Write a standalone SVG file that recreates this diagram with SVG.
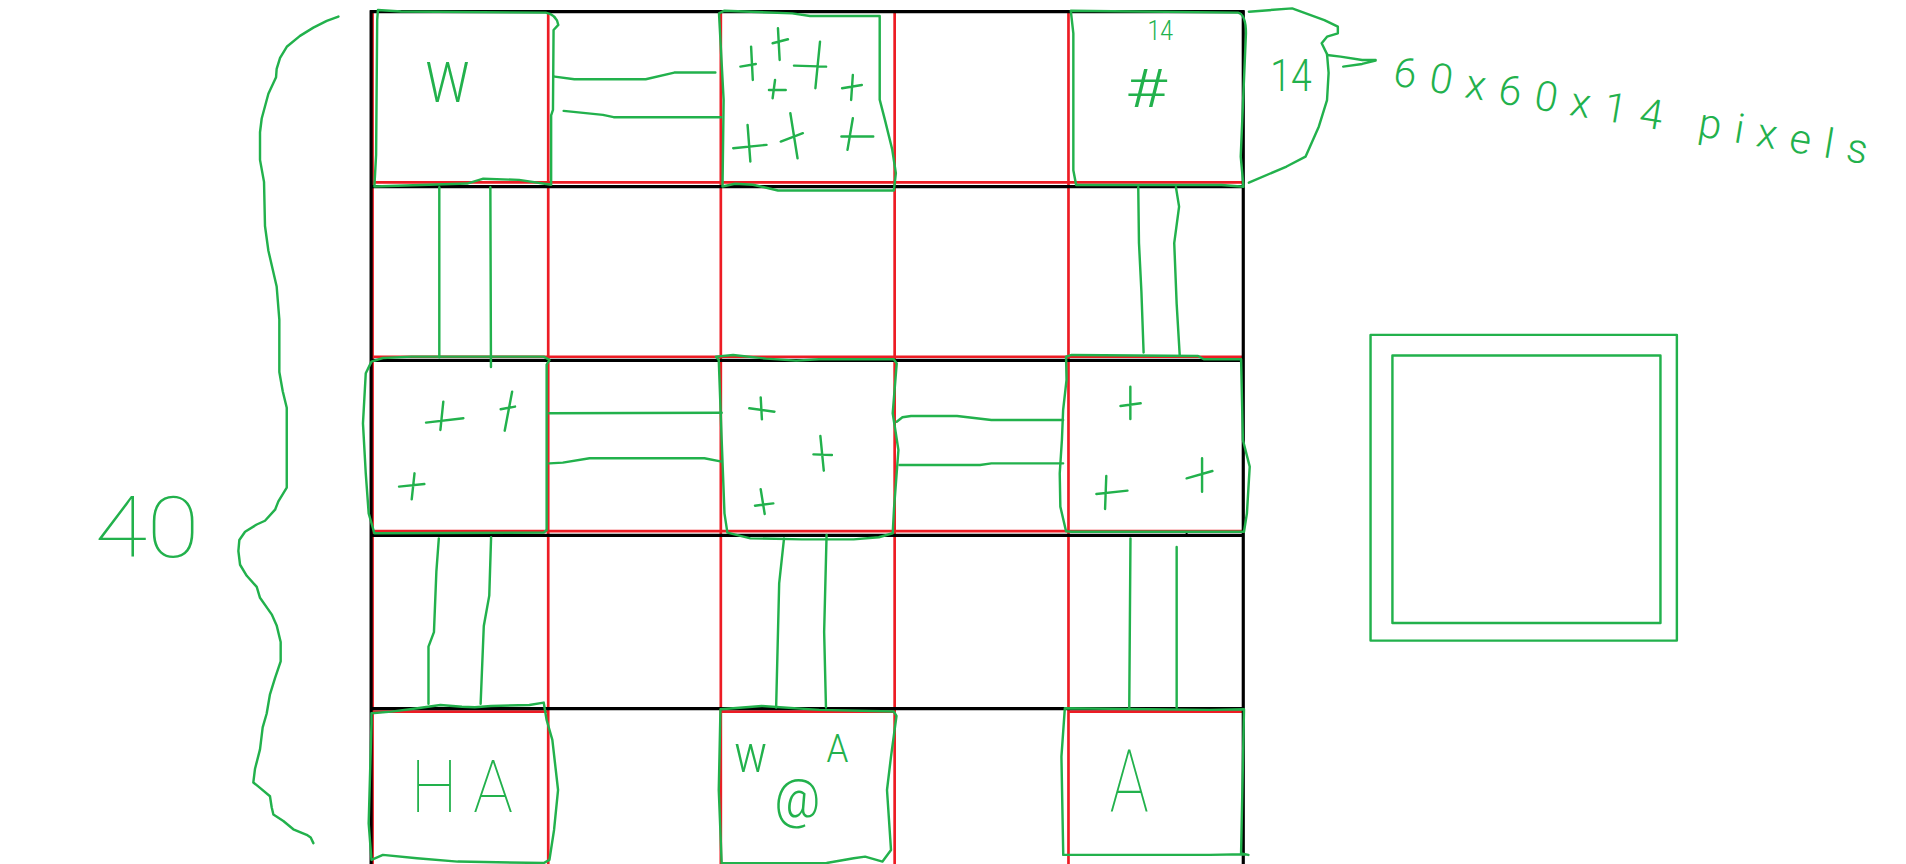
<svg xmlns="http://www.w3.org/2000/svg" width="1906" height="864" viewBox="0 0 1906 864">
<style>
.g{fill:none;stroke:#22b14c;stroke-width:2;stroke-linecap:round;stroke-linejoin:round}
.r{fill:none;stroke:#ed1c24;stroke-width:2.2}
.k{fill:none;stroke:#000;stroke-width:2.6}
.t{fill:#22b14c;font-family:"Roboto","Lato","Liberation Sans",sans-serif;font-weight:300}
.big{font-weight:100}
</style>
<rect width="1906" height="864" fill="#fff"/>
<g transform="scale(1.21556)">
<g id="grid">
<g class="r">
<path d="M306.5,9 V711 M451,9 V711 M593,9 V711 M736,9 V711 M879,9 V711"/>
<path d="M307,150 H1022 M307,293.5 H1022 M307,437 H1022"/>
<path d="M307,585.5 H451 M593,585.5 H736 M879,585.5 H1022"/>
</g>
<g class="k">
<path d="M304.5,9.5 H1023.5 M305,153.5 H1023 M305,296.5 H1023 M305,440.5 H1023 M305,583 H1023"/>
<path d="M305.3,8.5 V711 M1022.8,8.5 V711"/>
<path d="M976.2,437.4 V441.5" style="stroke-width:1.6"/>
</g>
</g>
<g id="connectors" class="g">
<path d="M456.3,63 L472.5,65.2 L531.2,65.2 L554.7,59.7 L588.5,59.7"/>
<path d="M463.7,91.2 L496,94.5 L504.8,96.4 L593,96.4"/>
<path d="M361.4,154 L361.4,294"/>
<path d="M403.4,154 L403.9,302"/>
<path d="M936.4,154 L937,200 L939,240 L940.8,290"/>
<path d="M967.4,154 L970,170 L966,200 L968,250 L970.5,292"/>
<path d="M452,340 L593.7,339.5"/>
<path d="M452,381.2 L463,380.6 L485,377 L579.5,377 L593.7,379.8"/>
<path d="M737.7,346.9 L742.4,343.3 L749.5,342.2 L787.3,342.2 L815.6,345.5 L874.6,345.5"/>
<path d="M740,382.5 L806.2,382.5 L815.6,381.2 L874.6,381.2"/>
<path d="M361,443 L359,470 L357,520 L352.5,532 L352.5,579"/>
<path d="M404,442 L402.5,490 L398,515 L395.4,579"/>
<path d="M645,443 L641,480 L638.5,582"/>
<path d="M680,440 L678,520 L679.5,582"/>
<path d="M930,443 L929,582"/>
<path d="M968,450 L968,582"/>
</g>
<g id="node-w">
<path class="g" d="M310.9,8.2 L330,9.5 L449,10.4 Q457.8,12 459.3,20.5 L455.4,24.7 L454.9,90.4 L453.4,95 L453.4,152 L427,148 L397.6,147 L384.3,151 L308,153.4 L309.4,127.4 L310.3,16.4 Z"/>
<text class="t" x="350" y="84" font-size="46" textLength="36" lengthAdjust="spacingAndGlyphs">W</text>
</g>
<g id="node-plus-top">
<path class="g" d="M591.5,11 L596,8.8 L651.7,11 L666.4,13.2 L723.7,13.2 L723.7,82 L728,98.6 L734,123 L737,142.5 L735.4,156.7 L640,156.7 L619.4,152 L604.7,151.2 L594.4,153.4 L595.3,82.2 Z"/>
<path class="g" d="M617.9,38.4 L619.3,65.8 M609.1,54.8 L621.8,52.6 M640,23.3 L641.4,49.3 M635.6,35.6 L648.2,32.3 M674.6,34.3 L670.8,72.6 M653.2,54 L679.6,54.8 M637.6,65.8 L635.6,80.8 M632.6,74 L646.4,74 M701.6,61.7 L700.2,82.2 M692.8,72.6 L709,69.9 M615,102.8 L617.3,132.9 M603.2,121.9 L630.6,119.2 M650.2,93.2 L656.1,130.2 M642.3,116.5 L660.5,109.6 M701.6,97.3 L697.2,123.3 M692.2,112.3 L718.4,112.3"/>
</g>
<g id="node-hash">
<path class="g" d="M880.9,8.8 L1018.5,10.4 Q1025,12 1025,27.4 L1020.7,128.9 L1023,153.6 L1005,152.2 L885.3,152.2 L883,140 L883,27.4 Z"/>
<text class="t" x="926" y="88" font-size="44" textLength="34" lengthAdjust="spacingAndGlyphs">#</text>
<text class="t" x="944" y="33" font-size="22" textLength="21" lengthAdjust="spacingAndGlyphs">14</text>
</g>
<g id="node-mid-left">
<path class="g" d="M305.6,297.5 L315,294.5 L338.7,293.4 L447.3,293.4 L452,296.2 L449.7,300 L449.7,436 L447.3,438.2 L308,438.7 L303.3,422.3 L300.9,389.4 L298.6,348.3 L300.9,307.1 Z"/>
<path class="g" d="M364.7,330.4 L362.3,353.7 M350.5,347.7 L381.2,344.1 M421.3,322.2 L415.2,354.3 M411.9,336.7 L423.7,334.5 M341,389.4 L338.7,410.8 M328.3,400.3 L349.1,398.2"/>
</g>
<g id="node-mid-center">
<path class="g" d="M591.3,296.2 L589,293.4 L603.1,292 L630,295 L655,296.7 L673.8,295.6 L735.3,295.6 L737.7,299 L734.4,340 L739.1,370.2 L735.5,418 L734.4,438.7 L723,442 L702.3,443.7 L659.8,443.7 L617.3,442.9 L598.4,438.2 L596,422.3 L593.7,362 Z"/>
<path class="g" d="M625.8,326.9 L626.8,345 M616.4,335.9 L637.1,338.7 M674.9,358.7 L677.7,387.2 M669.2,373.8 L684.4,374.3 M625.8,402.5 L629.1,422.8 M621.1,416 L636.2,414.1"/>
</g>
<g id="node-mid-right">
<path class="g" d="M877,293.4 L881.7,292 L985.6,292.9 L990.3,295.6 L1021,295.6 L1022.5,362 L1028.1,383.9 L1025.8,422.3 L1023.4,437.4 L881.7,437.4 L877,437 L872.3,416.8 L871.8,389.4 L873.6,362 L874.6,337.3 L877.4,312.6 Z"/>
<path class="g" d="M929.9,318.1 L929.9,344.7 M921.8,334 L938.4,331.8 M910.1,391.6 L909.1,418.7 M902,406.4 L927.5,403.6 M988.9,377 L988.9,404.5 M976.2,393.5 L997.4,387.5"/>
</g>
<g id="node-ha">
<path class="g" d="M305.6,586.8 L322,585.4 L343.4,582.7 L362.3,580 L380,581.4 L390.6,581.9 L404,580.8 L435.5,580 L447.3,578 L449.7,592.3 L454.4,608.7 L459.1,649.9 L455.8,682.8 L452,707.4 L447.3,710 L376.5,708.8 L343,706 L315,703.3 L305.6,707.4 L303.3,677.3 L305.6,595 Z"/>
<text class="t big" x="338" y="668" font-size="60" textLength="84" lengthAdjust="spacingAndGlyphs">H A</text>
</g>
<g id="node-at">
<path class="g" d="M592.7,583.5 L626.7,580.8 L674,584 L735.3,585.4 L737.5,589 L733,622.4 L729.7,649.9 L733,699.2 L726,708.8 L711.7,704.7 L702.3,706 L680,710 L593.7,710.2 L591.3,649.9 Z"/>
<text class="t" x="604" y="635" font-size="44" textLength="27" lengthAdjust="spacingAndGlyphs">w</text>
<text class="t" x="637" y="672" font-size="44" textLength="38" lengthAdjust="spacingAndGlyphs">@</text>
<text class="t" x="680" y="627" font-size="32" textLength="18" lengthAdjust="spacingAndGlyphs">A</text>
</g>
<g id="node-a">
<path class="g" d="M876,582.7 L995,584 L1023.4,583.5 L1021,702 L1027,703.3 L1023.4,702.8 L995,703.3 L874.7,703.3 L873.2,622.4 Z"/>
<text class="t big" x="913" y="668" font-size="72" textLength="32" lengthAdjust="spacingAndGlyphs">A</text>
</g>
<g id="brace-left">
<path class="g" d="M278.4,13.6 L268.8,17.2 L257.8,22.7 L246.8,29.5 L235.9,38.5 L230.4,47.6 L227.6,56.7 L227.1,63.5 L220.8,77.1 L215.3,97.5 L213.9,108.8 L213.9,131.5 L217.2,149.6 L218,185.9 L220.8,206.3 L227.6,235.7 L229.8,262.9 L229.8,306 L232.6,321.8 L235.9,335.4 L235.9,401.2 L229,412.5 L226.3,419.3 L218,428.4 L211.2,431.5 L201.6,437.4 L196.9,444.2 L196.1,453.3 L197.5,464.6 L203,473.7 L211.2,482.8 L213.9,491.8 L223.5,505.4 L227.6,514.5 L230.9,528.1 L230.9,544 L226.3,557.6 L222.1,571.2 L219.4,587 L216.1,598.4 L213.9,616.5 L209.8,632.4 L208.4,643.7 L213.9,648.2 L222.1,655 L223.5,664.1 L224.9,670 L233.1,675.4 L241.3,682.2 L252.3,686.8 L255.6,689 L257.8,693.6"/>
<text class="t big" x="78" y="458" font-size="70" textLength="86" lengthAdjust="spacingAndGlyphs">40</text>
</g>
<g id="brace-right">
<path class="g" d="M1027.4,9.6 L1063,6.9 L1089.5,16.5 L1100.6,21.9 L1100.6,27.4 L1091.7,30.2 L1087.3,35.6 L1091.7,44.5 L1093,60 L1091.7,82.3 L1085,104 L1074,128.9 L1058.4,137 L1027.4,150.3"/>
<path class="g" d="M1091.7,45.2 L1102.8,46.6 L1120.6,49.4 L1131.7,49.4 M1105,54.8 L1120.6,52.6 L1131.7,49.9"/>
<text class="t" x="1045" y="75" font-size="36" textLength="34" lengthAdjust="spacingAndGlyphs">14</text>
</g>
<g id="label-dims">
<text class="t" x="1145" y="70" font-size="34" textLength="395" lengthAdjust="spacing" transform="rotate(9.5 1145 70)">60x60x14 pixels</text>
</g>
<g id="legend-square" class="g">
<rect x="1127.5" y="275.5" width="252" height="251.5"/>
<rect x="1145.5" y="292.5" width="220.5" height="220"/>
</g>
</g>
</svg>
